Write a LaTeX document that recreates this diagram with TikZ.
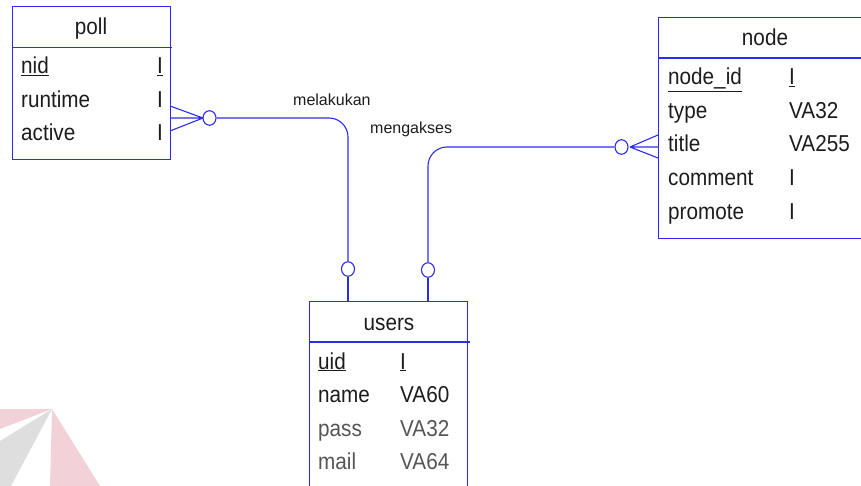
\documentclass[tikz,border=0pt]{standalone}
\usepackage{fontspec}
\setmainfont{Liberation Sans}[FakeStretch=0.9]
\newfontfamily\lblfont{Liberation Sans}
\usetikzlibrary{shapes.geometric}
\definecolor{erblue}{HTML}{2B2BF0}
\definecolor{ink}{HTML}{1C1C1C}
\definecolor{fade}{HTML}{555555}
\definecolor{markpink}{HTML}{F2D2D8}
\definecolor{markgrey}{HTML}{DEDEDE}
\begin{document}
\begin{tikzpicture}[x=1pt,y=-1pt,
  entity/.style={draw=erblue, line width=1.2pt, rectangle, inner sep=0pt, anchor=north west},
  sepline/.style={draw=erblue, line width=1.2pt},
  link/.style={draw=erblue, line width=1.1pt},
  optc/.style={draw=erblue, line width=1.1pt, ellipse, inner sep=0pt, minimum width=13pt, minimum height=14.5pt},
  field/.style={anchor=base west, inner sep=0pt, text=ink, font=\fontsize{23}{23}\selectfont},
  title/.style={anchor=base, inner sep=0pt, text=ink, font=\fontsize{23}{23}\selectfont},
  rel/.style={anchor=base west, inner sep=0pt, text=ink, font=\lblfont\fontsize{16}{16}\selectfont}]
\useasboundingbox (0,0) rectangle (861,486);

% faint logo in the lower left corner
\fill[markpink] (52,409) -- (0,409) -- (0,429) -- cycle;
\fill[markgrey] (52,409) -- (0,441) -- (0,486) -- (11,486) -- cycle;
\fill[markpink] (52,409) -- (50,486) -- (100,486) -- cycle;

% ---- poll ----
\node[entity, minimum width=158pt, minimum height=153pt] (poll) at (12,6) {};
\draw[sepline] (12,47.5) -- (172,47.5);
\node[title] (pollT) at (91,35) {poll};
\node[field] (p1) at (21,74) {\underline{nid}};
\node[field] (p2) at (21,108) {runtime};
\node[field] (p3) at (21,141) {active};
\node[field] (p1t) at (157,74) {\underline{I}};
\node[field] (p2t) at (157,108) {I};
\node[field] (p3t) at (157,141) {I};

% ---- node ----
\node[entity, minimum width=205pt, minimum height=221pt] (nodeE) at (658,17) {};
\draw[sepline] (658,58) -- (862,58);
\node[title] (nodeT) at (765,45.5) {node};
\node[field] (n1) at (668,85) {\underline{node\_id}};
\node[field] (n2) at (668,118.5) {type};
\node[field] (n3) at (668,152) {title};
\node[field] (n4) at (668,185.5) {comment};
\node[field] (n5) at (668,219) {promote};
\node[field] (n1t) at (789,85) {\underline{I}};
\node[field] (n2t) at (789,118.5) {VA32};
\node[field] (n3t) at (789,152) {VA255};
\node[field] (n4t) at (789,185.5) {I};
\node[field] (n5t) at (789,219) {I};

% ---- users ----
\node[entity, minimum width=158pt, minimum height=200pt] (users) at (309,301) {};
\draw[sepline] (309,342) -- (470,342);
\node[title] (usersT) at (389,330) {users};
\node[field] (u1) at (318,369) {\underline{uid}};
\node[field] (u2) at (318,402) {name};
\node[field, text=fade] (u3) at (318,436) {pass};
\node[field, text=fade] (u4) at (318,469) {mail};
\node[field] (u1t) at (400,369) {\underline{I}};
\node[field] (u2t) at (400,402) {VA60};
\node[field, text=fade] (u3t) at (400,436) {VA32};
\node[field, text=fade] (u4t) at (400,469) {VA64};

% ---- relationship: melakukan (poll -- users) ----
\coordinate (pf) at (203,118);
\draw[link] (pf) -- (170,106) (pf) -- (pf -| poll.east) (pf) -- (170,131);
\node[optc] (pc) at (209.5,118) {};
\node[optc] (uc1) at (348,269) {};
\draw[link, rounded corners=19pt] (pc.east) -| (uc1.north);
\draw[link] (uc1.south) -- (uc1.south |- users.north);
\node[rel] (lblA) at (293,105.5) {melakukan};

% ---- relationship: mengakses (node -- users) ----
\coordinate (nf) at (630,147);
\draw[link] (nf) -- (658,135) (nf) -- (nf -| nodeE.west) (nf) -- (658,158);
\node[optc] (nc) at (621.5,147) {};
\node[optc] (uc2) at (428,270) {};
\draw[link, rounded corners=19pt] (nc.west) -| (uc2.north);
\draw[link] (uc2.south) -- (uc2.south |- users.north);
\node[rel] (lblB) at (370,134) {mengakses};
\end{tikzpicture}
\end{document}
